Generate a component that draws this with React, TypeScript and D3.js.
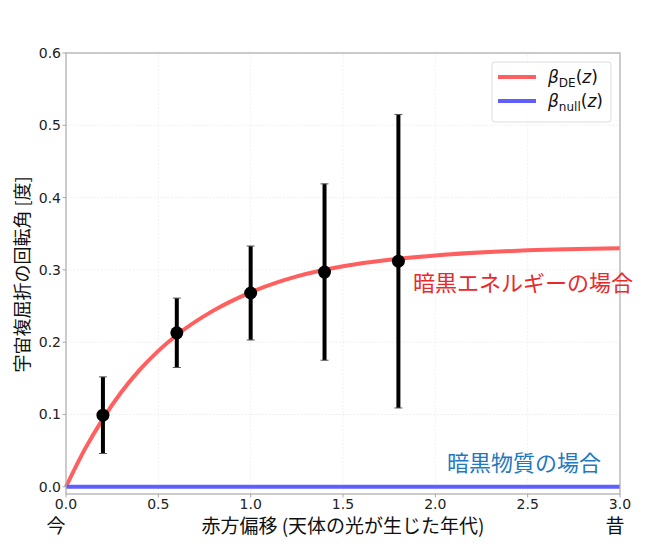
import React from "react";
import * as d3 from "d3";

// redshift of each measurement, rotation angle [deg] and its error
const obsZ = [0.2, 0.6, 1.0, 1.4, 1.8];
const obsBeta = [0.099, 0.213, 0.268, 0.297, 0.312];
const obsErr = [0.053, 0.048, 0.065, 0.122, 0.203];

// dark energy curve
const curveZ = [0, 0.1, 0.2, 0.3, 0.4, 0.5, 0.6, 0.8, 1.0, 1.25, 1.5, 1.75, 2.0, 2.5, 3.0];
const curveBeta = [0, 0.051, 0.094, 0.131, 0.162, 0.188, 0.21, 0.244, 0.269, 0.291, 0.305, 0.314, 0.32, 0.327, 0.33];

// null curve
const nullZ = [0, 3];
const nullBeta = [0, 0];

const xTicks = [0, 0.5, 1.0, 1.5, 2.0, 2.5, 3.0];
const yTicks = [0, 0.1, 0.2, 0.3, 0.4, 0.5, 0.6];

const W = 649;
const H = 552;
const margin = { left: 66, right: 29, top: 53, bottom: 58 };

const jp = "'Noto Sans CJK JP', 'DejaVu Sans', sans-serif";
const num = "'DejaVu Sans', sans-serif";

export default function App() {
  const x = d3.scaleLinear().domain([0, 3]).range([margin.left, W - margin.right]);
  const y = d3.scaleLinear().domain([-0.01, 0.6]).range([H - margin.bottom, margin.top]);

  const line = d3
    .line<[number, number]>()
    .x((d) => x(d[0]))
    .y((d) => y(d[1]))
    .curve(d3.curveMonotoneX);

  const dePath = line(curveZ.map((z, i) => [z, curveBeta[i]]) as [number, number][]) || "";
  const nullPath = line(nullZ.map((z, i) => [z, nullBeta[i]]) as [number, number][]) || "";

  const x0 = margin.left;
  const x1 = W - margin.right;
  const y0 = H - margin.bottom;
  const y1 = margin.top;

  return (
    <svg width={W} height={H} style={{ position: "absolute", left: 0, top: 0, background: "#fff" }}>
      {/* grid */}
      <g stroke="#ececec" strokeWidth={0.8} strokeDasharray="2,1.5">
        {xTicks.slice(1, -1).map((t) => (
          <line key={"gx" + t} x1={x(t)} x2={x(t)} y1={y0} y2={y1} />
        ))}
        {yTicks.slice(1).map((t) => (
          <line key={"gy" + t} x1={x0} x2={x1} y1={y(t)} y2={y(t)} />
        ))}
      </g>

      {/* curves */}
      <path d={dePath} fill="none" stroke="#ff5f5f" strokeWidth={4} />
      <path d={nullPath} fill="none" stroke="#5f5fff" strokeWidth={4} />

      {/* error bars */}
      {obsZ.map((z, i) => (
        <g key={"e" + z}>
          <line x1={x(z)} x2={x(z)} y1={y(obsBeta[i] - obsErr[i])} y2={y(obsBeta[i] + obsErr[i])} stroke="#000" strokeWidth={4} />
          <line x1={x(z) - 4} x2={x(z) + 4} y1={y(obsBeta[i] - obsErr[i])} y2={y(obsBeta[i] - obsErr[i])} stroke="#555" strokeWidth={1} />
          <line x1={x(z) - 4} x2={x(z) + 4} y1={y(obsBeta[i] + obsErr[i])} y2={y(obsBeta[i] + obsErr[i])} stroke="#555" strokeWidth={1} />
          <circle cx={x(z)} cy={y(obsBeta[i])} r={6.5} fill="#000" />
        </g>
      ))}

      {/* spines */}
      <rect x={x0} y={y1} width={x1 - x0} height={y0 - y1} fill="none" stroke="#aaa" strokeWidth={1.2} />

      {/* ticks */}
      <g fontFamily={num} fontSize={14} fill="#222">
        {xTicks.map((t) => (
          <g key={"tx" + t}>
            <line x1={x(t)} x2={x(t)} y1={y0} y2={y0 + 3.5} stroke="#aaa" />
            <text x={x(t)} y={y0 + 14.5} textAnchor="middle">
              {t.toFixed(1)}
            </text>
          </g>
        ))}
        {yTicks.map((t) => (
          <g key={"ty" + t}>
            <line x1={x0 - 3.5} x2={x0} y1={y(t)} y2={y(t)} stroke="#aaa" />
            <text x={x0 - 5} y={y(t) + 5} textAnchor="end">
              {t.toFixed(1)}
            </text>
          </g>
        ))}
      </g>

      {/* axis labels */}
      <text x={(x0 + x1) / 2} y={533} textAnchor="middle" fontFamily={jp} fontSize={19} fill="#111">
        赤方偏移 (天体の光が生じた年代)
      </text>
      <text x={56} y={533} textAnchor="middle" fontFamily={jp} fontSize={19} fill="#111">今</text>
      <text x={615} y={533} textAnchor="middle" fontFamily={jp} fontSize={19} fill="#111">昔</text>
      <text
        transform={`translate(29, ${(y0 + y1) / 2 + 1}) rotate(-90)`}
        textAnchor="middle"
        fontFamily={jp}
        fontSize={18}
        fill="#111"
      >
        宇宙複屈折の回転角 [度]
      </text>

      {/* annotations */}
      <text x={413} y={291} fontFamily={jp} fontSize={22} fill="#e82a2a">暗黒エネルギーの場合</text>
      <text x={447} y={471} fontFamily={jp} fontSize={22} fill="#1f78c1">暗黒物質の場合</text>

      {/* legend */}
      <g>
        <rect x={492} y={62} width={119} height={60} rx={3} fill="#fff" fillOpacity={0.8} stroke="#ddd" />
        <line x1={498} x2={536} y1={77} y2={77} stroke="#ff5f5f" strokeWidth={4} />
        <line x1={498} x2={536} y1={101} y2={101} stroke="#5f5fff" strokeWidth={4} />
        <text x={548} y={83} fontFamily={num} fontSize={17} fill="#111">
          <tspan fontStyle="italic">β</tspan>
          <tspan fontSize={12} dy={4}>DE</tspan>
          <tspan dy={-4}>(</tspan>
          <tspan fontStyle="italic">z</tspan>
          <tspan>)</tspan>
        </text>
        <text x={548} y={107} fontFamily={num} fontSize={17} fill="#111">
          <tspan fontStyle="italic">β</tspan>
          <tspan fontSize={12} dy={4}>null</tspan>
          <tspan dy={-4}>(</tspan>
          <tspan fontStyle="italic">z</tspan>
          <tspan>)</tspan>
        </text>
      </g>
    </svg>
  );
}
